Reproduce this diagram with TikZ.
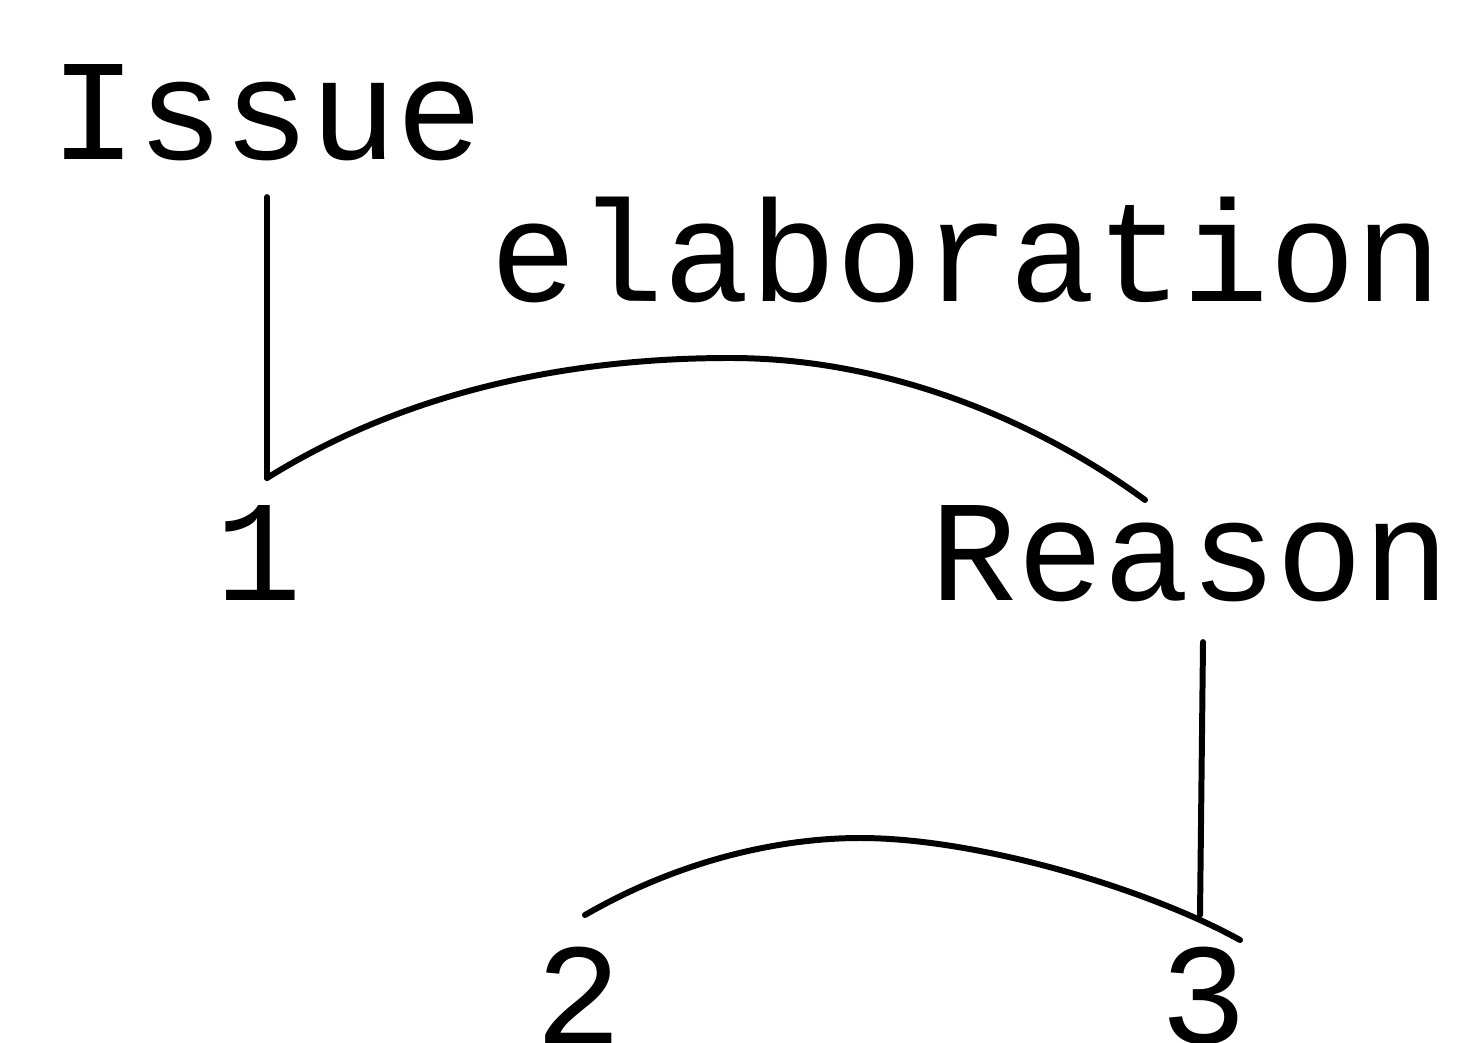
\documentclass[tikz,border=0pt]{standalone}
\usepackage{fontspec}
\setmainfont{Liberation Mono}
\usepackage{tikz}

\begin{document}
\begin{tikzpicture}[
    x=0.01cm, y=-0.01cm,
    every node/.style={inner sep=0pt, font=\fontsize{41}{41}\selectfont},
    arc/.style={line width=1.7pt, line cap=round}
]
\useasboundingbox (0,0) rectangle (1482,1043);

\node (issue) [anchor=base west] at (50,160) {Issue};
\node (elab) [anchor=base west] at (490,302) {elaboration};
\node (one) [anchor=base west] at (215,600) {1};
\node (reason) [anchor=base west] at (930,600) {Reason};
\node (two) [anchor=base west] at (535,1043) {2};
\node (three) [anchor=base west] at (1160,1043) {3};

\coordinate (top1) at (267,478);
\coordinate (end1) at (1145,500);
\coordinate (beg2) at (585,915);
\coordinate (top3) at (1200,915);
\coordinate (end2) at (1240,940);

\draw[arc] (issue.south -| top1) ++(0,35) -- (top1);
\draw[arc] (top1) .. controls (400,395) and (560,358) .. (730,358)
    .. controls (900,358) and (1050,430) .. (end1);
\draw[arc] (reason.south -| top3) ++(3,40) -- (top3);
\draw[arc] (beg2) .. controls (680,860) and (780,838) .. (860,838)
    .. controls (980,838) and (1150,890) .. (end2);

\end{tikzpicture}
\end{document}
